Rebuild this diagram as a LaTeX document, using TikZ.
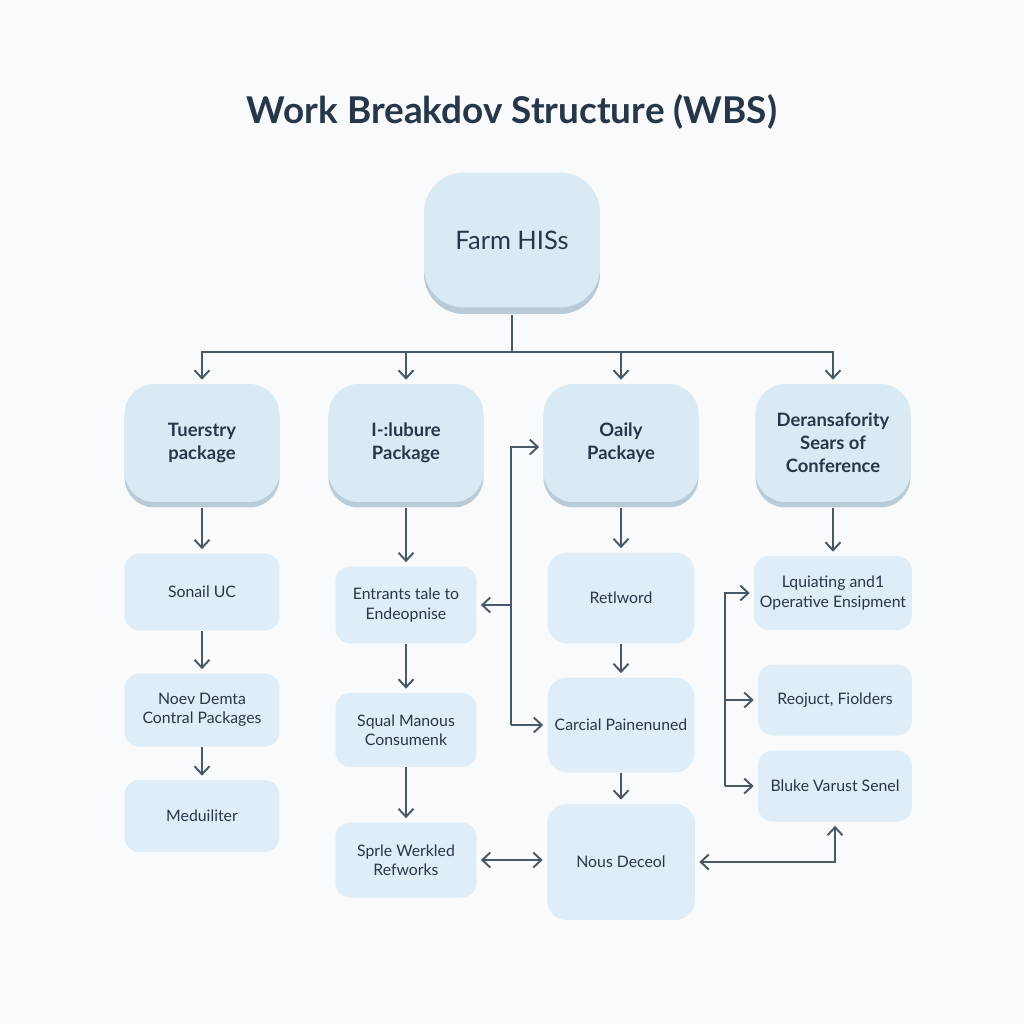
\documentclass[tikz,border=0pt]{standalone}
\usepackage{fontspec}
\setmainfont{Lato}
\usepackage{tikz}
\usetikzlibrary{positioning,calc,arrows.meta,shadows}

\definecolor{bgc}{HTML}{F8FAFC}
\definecolor{fillc}{HTML}{DAEAF5}
\definecolor{taskc}{HTML}{DEEDF7}
\definecolor{shadowc}{HTML}{BACBD8}
\definecolor{linec}{HTML}{4A5866}
\definecolor{textc}{HTML}{27374A}

\begin{document}
\begin{tikzpicture}[x=0.02cm,y=-0.02cm,
	toppkg/.style={rounded corners=0.8cm,fill=fillc,text=textc,minimum width=3.52cm,minimum height=2.7cm,
		general shadow={fill=shadowc,shadow yshift=-0.13cm},font=\fontsize{14.5}{17}\selectfont},
	pkg/.style={rounded corners=0.6cm,fill=fillc,text=textc,minimum width=3.1cm,minimum height=2.36cm,align=center,
		general shadow={fill=shadowc,shadow yshift=-0.11cm},font=\bfseries\fontsize{10.5}{13}\selectfont},
	task/.style={rounded corners=0.3cm,fill=taskc,text=textc,align=center,font=\fontsize{9}{11}\selectfont},
	arr/.style={draw=linec,line width=1.1pt,shorten >=0.08cm,-{Straight Barb[length=1.6mm,width=3mm]}},
	arrtwo/.style={arr,shorten <=0.08cm,{Straight Barb[length=1.6mm,width=3mm]}-{Straight Barb[length=1.6mm,width=3mm]}}]
		\fill[bgc] (0,0) rectangle (1024,1024);

		\node[text=textc,font=\bfseries\fontsize{21}{25}\selectfont] (title) at (512,112) {Work Breakdov Structure (WBS)};
		\node[toppkg] (farm) at (512,240) {Farm HISs};

		\node[pkg] (t1) at (202,443) {Tuerstry\\package};
		\node[pkg] (t2) at (406,443) {I-:lubure\\Package};
		\node[pkg] (t3) at (621,443) {Oaily\\Packaye};
		\node[pkg] (t4) at (833,443) {Deransafority\\Sears of\\Conference};

		\node[task,minimum width=3.1cm,minimum height=1.54cm] (a1) at (202,592) {Sonail UC};
		\node[task,minimum width=3.1cm,minimum height=1.46cm] (a2) at (202,710) {Noev Demta\\Contral Packages};
		\node[task,minimum width=3.1cm,minimum height=1.44cm] (a3) at (202,816) {Meduiliter};

		\node[task,minimum width=2.82cm,minimum height=1.54cm] (b1) at (406,605) {Entrants tale to\\Endeopnise};
		\node[task,minimum width=2.82cm,minimum height=1.48cm] (b2) at (406,730) {Squal Manous\\Consumenk};
		\node[task,minimum width=2.82cm,minimum height=1.5cm] (b3) at (406,860) {Sprle Werkled\\Refworks};

		\node[task,rounded corners=0.4cm,minimum width=2.94cm,minimum height=1.82cm] (c1) at (621,598) {Retlword};
		\node[task,rounded corners=0.4cm,minimum width=2.94cm,minimum height=1.9cm] (c2) at (621,725) {Carcial Painenuned};
		\node[task,rounded corners=0.4cm,minimum width=2.96cm,minimum height=2.32cm] (c3) at (621,862) {Nous Deceol};

		\node[task,minimum width=3.08cm,minimum height=1.48cm] (d1) at (833,593) {Lquiating and1\\Operative Ensipment};
		\node[task,minimum width=3.08cm,minimum height=1.42cm] (d2) at (835,700) {Reojuct, Fiolders};
		\node[task,minimum width=3.08cm,minimum height=1.42cm] (d3) at (835,786) {Bluke Varust Senel};

		% top level
		\coordinate (bus) at (512,352);
		\draw[linec,line width=1.1pt] (farm.south) ++(0,7) -- (bus);
		\foreach \t in {t1,t2,t3,t4}
			\draw[arr] (bus) -| (\t.north);

		% columns
		\draw[arr] (t1.south) ++(0,6) -- (a1);
		\draw[arr] (a1) -- (a2);
		\draw[arr] (a2) -- (a3);
		\draw[arr] (t2.south) ++(0,6) -- (b1);
		\draw[arr] (b1) -- (b2);
		\draw[arr] (b2) -- (b3);
		\draw[arr] (t3.south) ++(0,6) -- (c1);
		\draw[arr] (c1) -- (c2);
		\draw[arr] (c2) -- (c3);
		\draw[arr] (t4.south) ++(0,6) -- (d1);

		% side links
		\coordinate (jx) at (511,0);
		\draw[arr] (jx |- c2) |- ($(t3.west)+(0,4)$);
		\draw[arr] (jx |- b1) -- (b1);
		\draw[arr] (jx |- c2) -- (c2);
		\draw[arrtwo] (b3.east) -- (b3.east -| c3.west);

		\coordinate (kx) at (725,0);
		\draw[arr] (kx |- d3) |- (d1);
		\draw[arr] (kx |- d2) -- (d2);
		\draw[arr] (kx |- d3) -- (d3);
		\draw[arrtwo] (c3.east) -| (d3.south);
	\end{tikzpicture}
\end{document}
